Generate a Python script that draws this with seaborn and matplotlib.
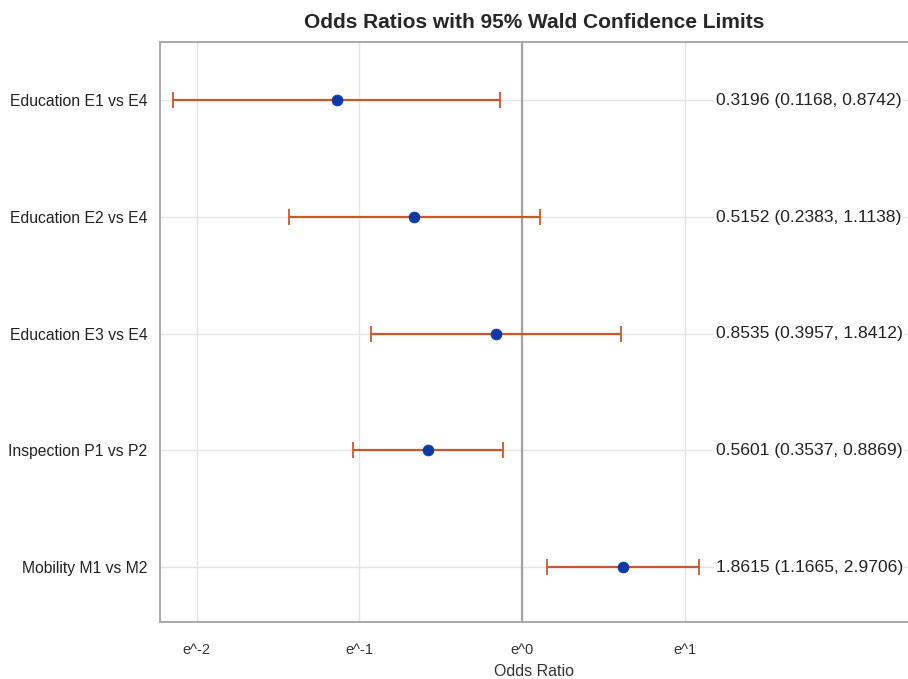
import numpy as np
import pandas as pd
import seaborn as sns
import matplotlib.pyplot as plt

sns.set_style("white")
plt.rcParams['font.family'] = ['Liberation Sans', 'DejaVu Sans']

effects = ["Education E1 vs E4", "Education E2 vs E4", "Education E3 vs E4",
           "Inspection P1 vs P2", "Mobility M1 vs M2"]
odds_ratio = [0.3196, 0.5152, 0.8535, 0.5601, 1.8615]
lower_cl = [0.1168, 0.2383, 0.3957, 0.3537, 1.1665]
upper_cl = [0.8742, 1.1138, 1.8412, 0.8869, 2.9706]
tick_powers = [-2, -1, 0, 1]

df = pd.DataFrame({"effect": effects, "or": odds_ratio, "lo": lower_cl, "hi": upper_cl})
df["row"] = np.arange(len(df))

fig = plt.figure(figsize=(9.08, 6.79), dpi=100)
ax = fig.add_axes([0.176, 0.084, 0.824, 0.854])
ax.set_xscale("log")

# row gridlines
for r in df["row"]:
    ax.axhline(r, color="#e4e4e4", lw=1, zorder=0)
for p in tick_powers:
    ax.axvline(np.exp(p), color="#e4e4e4", lw=1, zorder=0)
ax.axvline(1, color="#a0a4a8", lw=1.6, zorder=1)

ax.errorbar(df["or"], df["row"],
            xerr=[df["or"] - df["lo"], df["hi"] - df["or"]],
            fmt="none", ecolor="#c8582e", elinewidth=1.6, capsize=6, capthick=1.3, zorder=2)
sns.scatterplot(data=df, x="or", y="row", ax=ax, color="#0a3aa8", s=60,
                edgecolor="#0a3aa8", zorder=3)

for _, r in df.iterrows():
    ax.text(np.exp(1.19), r["row"], f"{r['or']:.4f} ({r['lo']:.4f}, {r['hi']:.4f})",
            va="center", ha="left", fontsize=12.6, color="#222222",
            bbox=dict(facecolor="white", edgecolor="none", pad=1))

ax.set_xlim(np.exp(-2.227), np.exp(2.372))
ax.set_ylim(4.47, -0.5)
ax.set_xticks([np.exp(p) for p in tick_powers])
ax.set_xticklabels([f"e^{p}" for p in tick_powers], fontsize=10.5, color="#333333")
ax.minorticks_off()
ax.set_yticks(df["row"])
ax.set_yticklabels(effects, fontsize=11.3, color="#222222")
ax.tick_params(axis="x", length=5, color="#a0a4a8", pad=10)
ax.tick_params(axis="y", length=0, pad=9)
ax.set_xlabel("Odds Ratio", fontsize=11.5, color="#333333", labelpad=5)
ax.set_ylabel("")
ax.set_title("Odds Ratios with 95% Wald Confidence Limits", fontsize=15, fontweight="bold", pad=10)

for s in ["left", "bottom", "top"]:
    ax.spines[s].set_color("#a0a4a8")
    ax.spines[s].set_linewidth(1.3)
ax.spines["right"].set_visible(False)

fig.savefig("out.png", dpi=100)
